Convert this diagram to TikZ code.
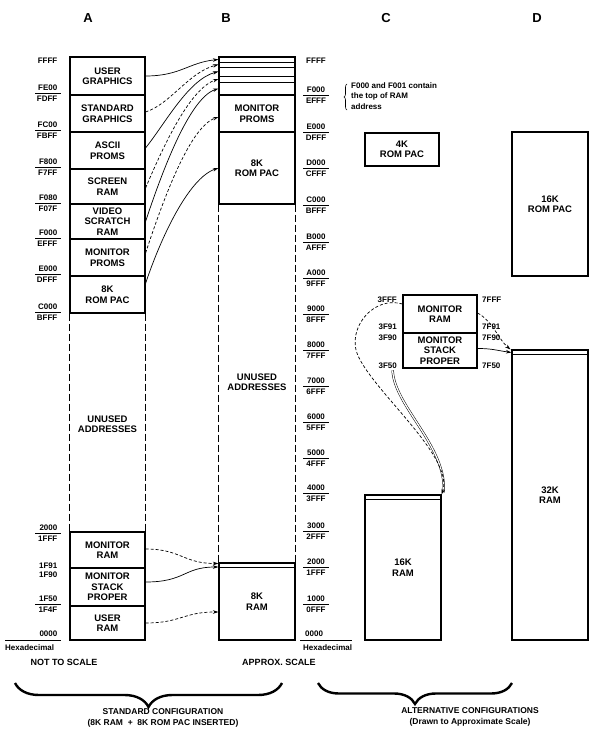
\documentclass[tikz,border=0pt]{standalone}
\usepackage{fontspec}
\setmainfont{Liberation Sans}
\usetikzlibrary{arrows.meta,decorations.pathreplacing}
\newcommand{\bxfont}{\bfseries\fontsize{9.5}{10.5}\selectfont}
\newcommand{\adfont}{\bfseries\fontsize{8}{9}\selectfont}
\newcommand{\hdfont}{\bfseries\fontsize{13}{15}\selectfont}
\newcommand{\cpfont}{\bfseries\fontsize{9}{11}\selectfont}
\newcommand{\cfgfont}{\bfseries\fontsize{8.5}{11.5}\selectfont}
\newcommand{\ntfont}{\bfseries\fontsize{8}{10.5}\selectfont}
\newcommand{\lblA}[4]{%
  \draw[tickln] (35,#2) -- (61,#2);
  \node[addr, anchor=base east] (#1u) at (57.5,#2-2.5) {#3};
  \node[addr, anchor=base east] (#1l) at (57.5,#2+8.2) {#4};}
\newcommand{\lblB}[4]{%
  \draw[tickln] (303,#2) -- (329,#2);
  \node[addr, anchor=base] (#1u) at (316,#2-2.5) {#3};
  \node[addr, anchor=base] (#1l) at (316,#2+8.2) {#4};}
\begin{document}
\begin{tikzpicture}[x=1pt,y=-1pt,
  blk/.style={draw, line width=1.1pt, minimum width=75pt, inner sep=0pt, align=center, font=\bxfont},
  txt/.style={inner sep=0pt, align=center, font=\bxfont},
  addr/.style={font=\adfont, inner sep=0pt},
  tickln/.style={line width=0.6pt},
  divline/.style={line width=0.6pt},
  unused/.style={line width=1.3pt, dash pattern=on 7pt off 3pt},
  conn/.style={line width=0.7pt, -{Stealth[length=5.5pt,width=3.5pt]}},
  dconn/.style={conn, dash pattern=on 3pt off 2pt},
  dbl/.style={line width=0.5pt, double, double distance=1.3pt},
  hdr/.style={font=\hdfont, inner sep=0pt},
  captxt/.style={font=\cpfont, inner sep=0pt, align=center},
  cfgtxt/.style={font=\cfgfont, inner sep=0pt, align=center},
  bigbrace/.style={decorate, line width=2.4pt, decoration={brace, mirror, amplitude=#1}}
]
\useasboundingbox (0,0) rectangle (600,735);

% headers
\node[hdr] (hA) at (88,18) {A};
\node[hdr] (hB) at (226,18) {B};
\node[hdr] (hC) at (386,18) {C};
\node[hdr] (hD) at (537,18) {D};

% ---------- column A ----------
\node[blk, minimum height=38pt] (AUG) at (107.5,76) {USER\\GRAPHICS};
\node[blk, minimum height=37pt] (ASG) at (107.5,113.5) {STANDARD\\GRAPHICS};
\node[blk, minimum height=37pt] (AAP) at (107.5,150.5) {ASCII\\PROMS};
\node[blk, minimum height=35pt] (ASR) at (107.5,186.5) {SCREEN\\RAM};
\node[blk, minimum height=35pt] (AVS) at (107.5,221.5) {VIDEO\\SCRATCH\\RAM};
\node[blk, minimum height=37pt] (AMP) at (107.5,257.5) {MONITOR\\PROMS};
\node[blk, minimum height=37pt] (ARP) at (107.5,294.5) {8K\\ROM PAC};
\node[blk, minimum height=36pt] (AMR) at (107.5,550) {MONITOR\\RAM};
\node[blk, minimum height=38pt] (AMS) at (107.5,587) {MONITOR\\STACK\\PROPER};
\node[blk, minimum height=34pt] (AUR) at (107.5,623) {USER\\RAM};
\draw[unused] (ARP.south west) -- (AMR.north west);
\draw[unused] (ARP.south east) -- (AMR.north east);
\node[txt] (AUN) at (107.5,424) {UNUSED\\ADDRESSES};

% A address labels
\node[addr, anchor=base east] (aFFFF) at (57.5,64) {FFFF};
\lblA{la1}{93}{FE00}{FDFF}
\lblA{la2}{130}{FC00}{FBFF}
\lblA{la3}{167}{F800}{F7FF}
\lblA{la4}{203}{F080}{F07F}
\lblA{la5}{238}{F000}{EFFF}
\lblA{la6}{274}{E000}{DFFF}
\lblA{la7}{312}{C000}{BFFF}
\lblA{la8}{533}{2000}{1FFF}
\node[addr, anchor=base east] (la9u) at (57.5,568) {1F91};
\node[addr, anchor=base east] (la9l) at (57.5,577.5) {1F90};
\lblA{la10}{604}{1F50}{1F4F}
\node[addr, anchor=base east] (a0000) at (57.5,636.5) {0000};
\draw[tickln] (5,640) -- (61,640);
\node[addr, anchor=base west] (aHex) at (5,650) {Hexadecimal};

% ---------- column B ----------
\node[blk, minimum width=76pt, minimum height=38pt] (BTOP) at (257,76) {};
\foreach \yy in {62,67,76,82} \draw[divline] (219,\yy) -- (295,\yy);
\node[blk, minimum width=76pt, minimum height=37pt] (BMP) at (257,113.5) {MONITOR\\PROMS};
\node[blk, minimum width=76pt, minimum height=72pt] (BRP) at (257,168) {8K\\ROM PAC};
\node[blk, minimum width=76pt, minimum height=77pt] (BRAM) at (257,601.5) {8K\\RAM};
\draw[divline] (219,567) -- (295,567);
\draw[unused] (BRP.south west) -- (BRAM.north west);
\draw[unused] (BRP.south east) -- (BRAM.north east);
\node[txt] (BUN) at (257,382) {UNUSED\\ADDRESSES};

% B address labels
\node[addr, anchor=base] (bFFFF) at (316,64) {FFFF};
\lblB{lb1}{95}{F000}{EFFF}
\lblB{lb2}{132}{E000}{DFFF}
\lblB{lb3}{168}{D000}{CFFF}
\lblB{lb4}{205}{C000}{BFFF}
\lblB{lb5}{242}{B000}{AFFF}
\lblB{lb6}{278}{A000}{9FFF}
\lblB{lb7}{314}{9000}{8FFF}
\lblB{lb8}{350}{8000}{7FFF}
\lblB{lb9}{386}{7000}{6FFF}
\lblB{lb10}{422}{6000}{5FFF}
\lblB{lb11}{458}{5000}{4FFF}
\lblB{lb12}{493}{4000}{3FFF}
\lblB{lb13}{531}{3000}{2FFF}
\lblB{lb14}{567}{2000}{1FFF}
\lblB{lb15}{604}{1000}{0FFF}
\node[addr, anchor=base west] (b0000) at (305,636.5) {0000};
\draw[tickln] (300,640) -- (352,640);
\node[addr, anchor=base west] (bHex) at (303,650) {Hexadecimal};

% note
\node[font=\ntfont, inner sep=0pt, anchor=north west, align=left] (note) at (351,82.5)
  {F000 and F001 contain\\the top of RAM\\address};
\draw[decorate, decoration={brace, amplitude=3pt}, line width=0.6pt] (347,110) -- (347,84);

% A -> B connectors (top)
\draw[conn]  (AUG.east) .. controls +(35,0) and +(-30,3) .. ([yshift=16.5pt]BTOP.west);
\draw[dconn] ([yshift=1.5pt]ASG.east) .. controls +(25,-8) and +(-30,8) .. ([yshift=11.5pt]BTOP.west);
\draw[conn]  ([yshift=2.5pt]AAP.east) .. controls +(20,-25) and +(-30,8) .. ([yshift=4.5pt]BTOP.west);
\draw[dconn] ([yshift=-1.5pt]ASR.east) .. controls +(15,-35) and +(-30,10) .. ([yshift=-3pt]BTOP.west);
\draw[conn]  (AVS.east) .. controls +(15,-45) and +(-30,10) .. ([yshift=-12.5pt]BTOP.west);
\draw[dconn] ([yshift=4.5pt]AMP.east) .. controls +(15,-45) and +(-30,10) .. ([yshift=-3.5pt]BMP.west);
\draw[conn]  ([yshift=11pt]ARP.east) .. controls +(15,-45) and +(-30,10) .. (BRP.west);

% A -> B connectors (bottom)
\draw[dconn] ([yshift=1pt]AMR.east) .. controls +(35,0) and +(-35,0) .. ([yshift=38pt]BRAM.west);
\draw[conn]  ([yshift=5pt]AMS.east) .. controls +(40,0) and +(-35,0) .. ([yshift=34.5pt]BRAM.west);
\draw[dconn] (AUR.east) .. controls +(35,0) and +(-35,0) .. ([yshift=-10.5pt]BRAM.west);

% ---------- column C ----------
\node[blk, minimum width=74pt, minimum height=33pt] (C4K) at (402,149.5) {4K\\ROM PAC};
\node[blk, minimum width=74pt, minimum height=38pt] (CMR) at (440,314) {MONITOR\\RAM};
\node[blk, minimum width=74pt, minimum height=35pt] (CMS) at (440,350.5) {MONITOR\\STACK\\PROPER};
\node[blk, minimum width=76pt, minimum height=145pt] (C16) at (403,567.5) {16K\\RAM};
\draw[divline] (365,499) -- (441,499);

\node[addr, anchor=base east] (cl1) at (397,302) {3FFF};
\node[addr, anchor=base east] (cl2) at (397,329) {3F91};
\node[addr, anchor=base east] (cl3) at (397,340) {3F90};
\node[addr, anchor=base east] (cl4) at (397,368) {3F50};
\node[addr, anchor=base west] (cr1) at (482,302) {7FFF};
\node[addr, anchor=base west] (cr2) at (482,329) {7F91};
\node[addr, anchor=base west] (cr3) at (482,340) {7F90};
\node[addr, anchor=base west] (cr4) at (482,368) {7F50};

\draw[dbl] ([xshift=5pt,yshift=-2pt]cl4.south) .. controls +(1,35) and +(4,-45) .. ([xshift=2pt,yshift=2pt]C16.north east);
\draw[dconn] ([yshift=10pt]CMR.west) .. controls +(-28,-8) and +(-6,-25) .. (356,350)
   .. controls (365,385) and (455,455) .. (C16.north east);

% ---------- column D ----------
\node[blk, minimum width=76pt, minimum height=144pt] (D16) at (550,204) {16K\\ROM PAC};
\node[blk, minimum width=76pt, minimum height=290pt] (D32) at (550,495) {32K\\RAM};
\draw[divline] (512,354) -- (588,354);

\draw[dconn] ([yshift=1pt]CMR.east) .. controls +(15,8) and +(-12,-10) .. ([xshift=-1pt]D32.north west);
\draw[conn]  ([yshift=2pt]CMS.east) .. controls +(15,0) and +(-15,-2) .. ([yshift=-3pt]D32.north west);

% ---------- bottom ----------
\node[captxt] (nts) at (64,662) {NOT TO SCALE};
\node[captxt] (aps) at (279,662) {APPROX. SCALE};
\draw[bigbrace=24pt] (15,683) -- (282,683);
\draw[bigbrace=21pt] (318,683) -- (512,683);
\node[cfgtxt] (std) at (163,718) {STANDARD CONFIGURATION\\(8K RAM \ + \ 8K ROM PAC INSERTED)};
\node[cfgtxt] (alt) at (470,717) {ALTERNATIVE CONFIGURATIONS\\(Drawn to Approximate Scale)};
\end{tikzpicture}
\end{document}
